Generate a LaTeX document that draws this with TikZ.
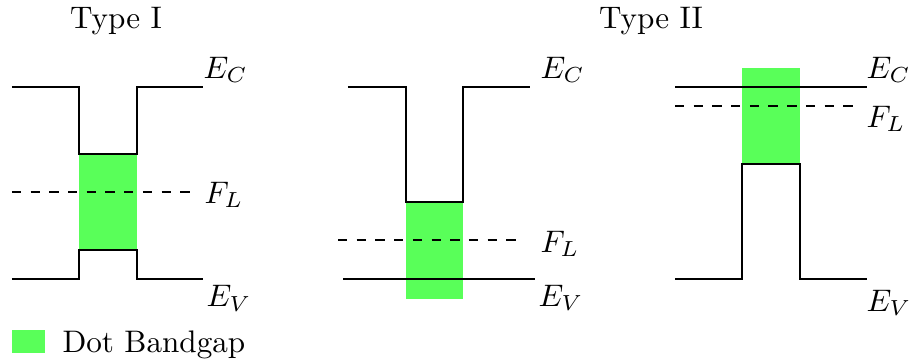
\documentclass[tikz,border=0pt]{standalone}
\usetikzlibrary{calc}
\definecolor{dotgreen}{RGB}{89,255,89}

\begin{document}
\begin{tikzpicture}[gap/.style={fill=dotgreen}, lvl/.style={anchor=base west, inner sep=0pt}]
  \useasboundingbox (0,0) rectangle (10.276,4.050);
  % titles
  \node[anchor=base] (t1) at (1.308,3.734) {Type I};
  \node[anchor=base] (t2) at (7.343,3.734) {Type II};
  % Type I
  \fill[gap] (0.891,1.230) rectangle (1.545,2.312);
  \draw (0.135,3.068) -- (0.891,3.068) -- (0.891,2.312) -- (1.545,2.312) -- (1.545,3.068) -- (2.290,3.068);
  \draw (0.135,0.902) -- (0.891,0.902) -- (0.891,1.230) -- (1.545,1.230) -- (1.545,0.902) -- (2.290,0.902);
  \draw[dashed] (0.135,1.884) -- (2.220,1.884);
  \node[lvl] at (2.290,3.170) {$E_C$};
  \node[lvl] at (2.301,1.760) {$F_L$};
  \node[lvl] at (2.324,0.587) {$E_V$};
  % Type I, deep well
  \fill[gap] (4.580,0.677) rectangle (5.223,1.771);
  \draw (3.925,3.068) -- (4.580,3.068) -- (4.580,1.771) -- (5.223,1.771) -- (5.223,3.068) -- (5.978,3.068);
  \draw (3.869,0.902) -- (6.035,0.902);
  \draw[dashed] (3.813,1.342) -- (5.888,1.342);
  \node[lvl] at (6.091,3.170) {$E_C$};
  \node[lvl] at (6.091,1.207) {$F_L$};
  \node[lvl] at (6.069,0.598) {$E_V$};
  % Type II
  \fill[gap] (8.370,2.200) rectangle (9.024,3.282);
  \draw (7.614,3.068) -- (9.780,3.068);
  \draw[dashed] (7.614,2.854) -- (9.700,2.854);
  \draw (7.614,0.902) -- (8.370,0.902) -- (8.370,2.200) -- (9.024,2.200) -- (9.024,0.902) -- (9.780,0.902);
  \node[lvl] at (9.768,3.170) {$E_C$};
  \node[lvl] at (9.768,2.617) {$F_L$};
  \node[lvl] at (9.768,0.541) {$E_V$};
  % legend
  \fill[gap] (0.135,0.068) rectangle (0.508,0.327);
  \node[lvl] (key) at (0.699,0.079) {Dot Bandgap};
\end{tikzpicture}
\end{document}
